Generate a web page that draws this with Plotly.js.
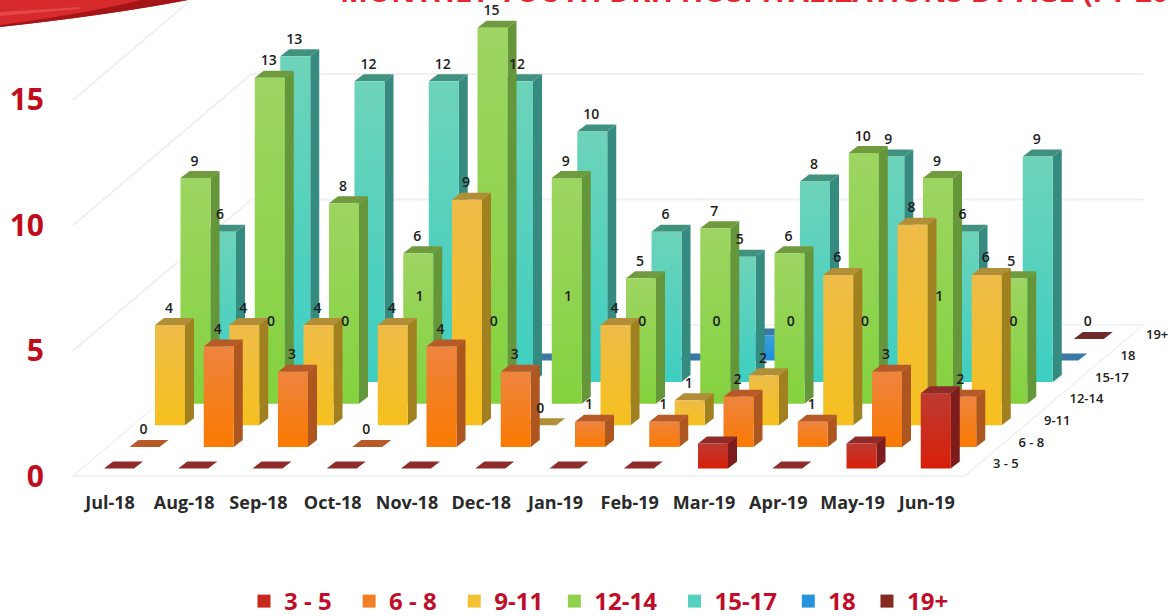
<!DOCTYPE html>
<html>
<head>
<meta charset="utf-8">
<script src="https://cdn.plot.ly/plotly-3.0.1.min.js"></script>
<style>html,body{margin:0;padding:0;background:#fff;overflow:hidden}</style>
</head>
<body>
<div style="width:1174px;height:616px;overflow:hidden"><div id="chart"></div></div>
<script>
var months = ["Jul-18","Aug-18","Sep-18","Oct-18","Nov-18","Dec-18","Jan-19","Feb-19","Mar-19","Apr-19","May-19","Jun-19"];
var ageGroups = ["3 - 5","6 - 8","9-11","12-14","15-17","18","19+"];
var v3to5   = [0,0,0,0,0,0,0,0,1,0,1,3];
var v6to8   = [0,4,3,0,4,3,1,1,2,1,3,2];
var v9to11  = [4,4,4,4,9,0,4,1,2,6,8,6];
var v12to14 = [9,13,8,6,15,9,5,7,6,10,9,5];
var v15to17 = [6,13,12,12,12,10,6,5,8,9,6,9];
var v18     = [0,0,0,0,0,0,0,1,0,0,0,0];
var v19plus = [0,0,1,0,1,0,0,0,0,1,0,0];
var allValues = [v3to5,v6to8,v9to11,v12to14,v15to17,v18,v19plus];
var labelled = [false,true,true,true,true,false,true];
var yTicks = [0,5,10,15];
var legendPad = [2,2,1,2,1,1,0];

// face colours: front gradient (top, bottom), side, top
var faceColors = [
  {f:["#bd3a32","#d81f08"], s:"#7c1c1c", t:"#8f2c2a", k:"#c8281c"},
  {f:["#ee843f","#fa7a02"], s:"#ad561f", t:"#b85a28", k:"#f07f25"},
  {f:["#eebc48","#f6c01e"], s:"#a0801f", t:"#b08f38", k:"#f2c233"},
  {f:["#9dd562","#84d23e"], s:"#65963a", t:"#6f9b3e", k:"#90d24d"},
  {f:["#6dd3b9","#3dcfc2"], s:"#368b80", t:"#41917f", k:"#55d1bd"},
  {f:["#3c9cd8","#1d8fe2"], s:"#2a6c9a", t:"#3a78a8", k:"#2693dc"},
  {f:["#8f3229","#7a2a22"], s:"#5e211c", t:"#6e2a2a", k:"#84291f"}
];

// projection scale (pixels per data unit on the two axes)
var PXX = 74.25, PXY = 25.07;
var rowDX = 25.5/PXX, rowDY = 21.6/PXY;
var barW = 30/PXX, depX = 9/PXX, depY = 7/PXY;
var barLeft0 = -6/PXX, barBase0 = 7.5/PXY;

function left(c,r){return c + barLeft0 + r*rowDX;}
function base(r){return barBase0 + r*rowDY;}

var traces = [];
function poly(xs,ys,color,grad){
  var t = {type:"scatter",mode:"lines",x:xs.concat(xs[0]),y:ys.concat(ys[0]),fill:"toself",
    line:{width:0,color:color},hoverinfo:"skip",showlegend:false};
  if(grad){ t.fillgradient = {type:"vertical",colorscale:[[0,grad[1]],[1,grad[0]]]}; }
  else { t.fillcolor = color; }
  traces.push(t);
}

// floor, walls and gridlines
var wallX = -37/PXX, wallDepthX = 7*rowDX, wallDepthY = 7*rowDY, wallRight = 855/PXX;
yTicks.forEach(function(tv){
  var xs = tv===0 ? [wallX,wallX+wallDepthX,wallRight+wallDepthX,wallRight,wallX]
                  : [wallX,wallX+wallDepthX,wallRight+wallDepthX];
  var ys = tv===0 ? [0,wallDepthY,wallDepthY,0,0]
                  : [tv,tv+wallDepthY,tv+wallDepthY];
  traces.push({type:"scatter",mode:"lines",x:xs,y:ys,line:{color:"#f0f0f0",width:tv===0?1.5:2},
    hoverinfo:"skip",showlegend:false});
});

// bars, back row to front row, painted left to right
for(var r=ageGroups.length-1;r>=0;r--){
  for(var c=0;c<months.length;c++){
    var v = allValues[r][c], L = left(c,r), B = base(r), C = faceColors[r], T = B+v;
    if(v>0){
      poly([L+barW,L+barW+depX,L+barW+depX,L+barW],[B,B+depY,T+depY,T],C.s);
    }
    poly([L,L+barW,L+barW+depX,L+depX],[T,T,T+depY,T+depY],C.t);
    if(v>0){
      poly([L,L+barW,L+barW,L],[B,B,T,T],C.f[0],C.f);
    }
  }
}

// value labels
allValues.forEach(function(vals,r){
  if(!labelled[r]) return;
  traces.push({type:"scatter",mode:"text",
    x:vals.map(function(v,c){return left(c,r)+14/PXX;}),
    y:vals.map(function(v){return base(r)+v+depY+9/PXY;}),
    text:vals.map(String),textposition:"middle center",cliponaxis:false,
    textfont:{family:"'Open Sans',sans-serif",size:14,color:"#1c1c1c",weight:600},
    hoverinfo:"skip",showlegend:false});
});

// depth axis labels
traces.push({type:"scatter",mode:"text",
  x:ageGroups.map(function(g,r){return (993-110)/PXX + r*rowDX;}),
  y:ageGroups.map(function(g,r){return 11/PXY + r*rowDY;}),
  text:ageGroups,textposition:"middle right",cliponaxis:false,
  textfont:{family:"'Open Sans',sans-serif",size:13,color:"#222",weight:600},
  hoverinfo:"skip",showlegend:false});

// legend entries
ageGroups.forEach(function(g,r){
  traces.push({type:"scatter",mode:"markers",name:g+"\u00a0".repeat(legendPad[r]),x:[null],y:[null],
    marker:{symbol:"square",size:13,color:faceColors[r].k},hoverinfo:"skip"});
});

// the figure is taller than the window so the legend fits without pushing the plot area
var W=1174,H=640,ml=45,mb=150;
var PH=H-mb, PW=W-ml;
function px(x){return (x-ml)/PW;}
function py(y){return (PH-y)/PH;}
function P(pts){return "M"+pts.map(function(p){return px(p[0])+" "+py(p[1]);}).join(" L")+" Z";}

var layout = {
  width:W,height:H,paper_bgcolor:"#fff",plot_bgcolor:"rgba(0,0,0,0)",
  margin:{l:ml,r:0,t:0,b:mb,pad:0},
  title:{text:"MONTHLY YOUTH DRH HOSPITALIZATIONS BY AGE (FY 2019)",x:340/W,xanchor:"left",y:1-2/H,yanchor:"bottom",
    font:{family:"'Open Sans',sans-serif",size:29.5,color:"#e8252f",weight:700},automargin:false},
  xaxis:{range:[(ml-110)/PXX,(W-110)/PXX],tickmode:"array",tickvals:months.map(function(m,i){return i;}),ticktext:months,
    showgrid:false,zeroline:false,showline:false,ticks:"",ticklen:0,
    tickfont:{family:"'Open Sans',sans-serif",size:18,color:"#2a2a2a",weight:700}},
  yaxis:{range:[(476-PH)/PXY,476/PXY],tickmode:"array",tickvals:yTicks,ticktext:yTicks.map(String),
    showgrid:false,zeroline:false,showline:false,ticks:"",
    tickfont:{family:"'Open Sans',sans-serif",size:30,color:"#c00d1e",weight:700}},
  showlegend:true,
  legend:{orientation:"h",x:px(244),xanchor:"left",y:py(579),yanchor:"top",bgcolor:"rgba(0,0,0,0)",
    font:{family:"'Open Sans',sans-serif",size:24,color:"#c00d2a",weight:700},itemclick:false,itemdoubleclick:false},
  shapes:[
    {type:"path",xref:"paper",yref:"paper",layer:"below",line:{width:0},fillcolor:"#d62a2c",
      path:"M"+px(0)+" "+py(0)+" L"+px(188)+" "+py(0)+" Q"+px(110)+" "+py(15)+" "+px(0)+" "+py(27)+" Z"},
    {type:"path",xref:"paper",yref:"paper",layer:"below",line:{width:0},fillcolor:"#a51518",
      path:"M"+px(188)+" "+py(0)+" L"+px(140)+" "+py(0)+" Q"+px(90)+" "+py(13)+" "+px(0)+" "+py(25)+" L"+px(0)+" "+py(27)+" Q"+px(110)+" "+py(15)+" "+px(188)+" "+py(0)+" Z"},
    {type:"path",xref:"paper",yref:"paper",layer:"below",line:{width:0},fillcolor:"#e2474a",
      path:P([[0,12],[80,7],[80,9],[0,16]])}
  ]
};
Plotly.newPlot("chart",traces,layout,{displayModeBar:false,staticPlot:true});
</script>
</body>
</html>
